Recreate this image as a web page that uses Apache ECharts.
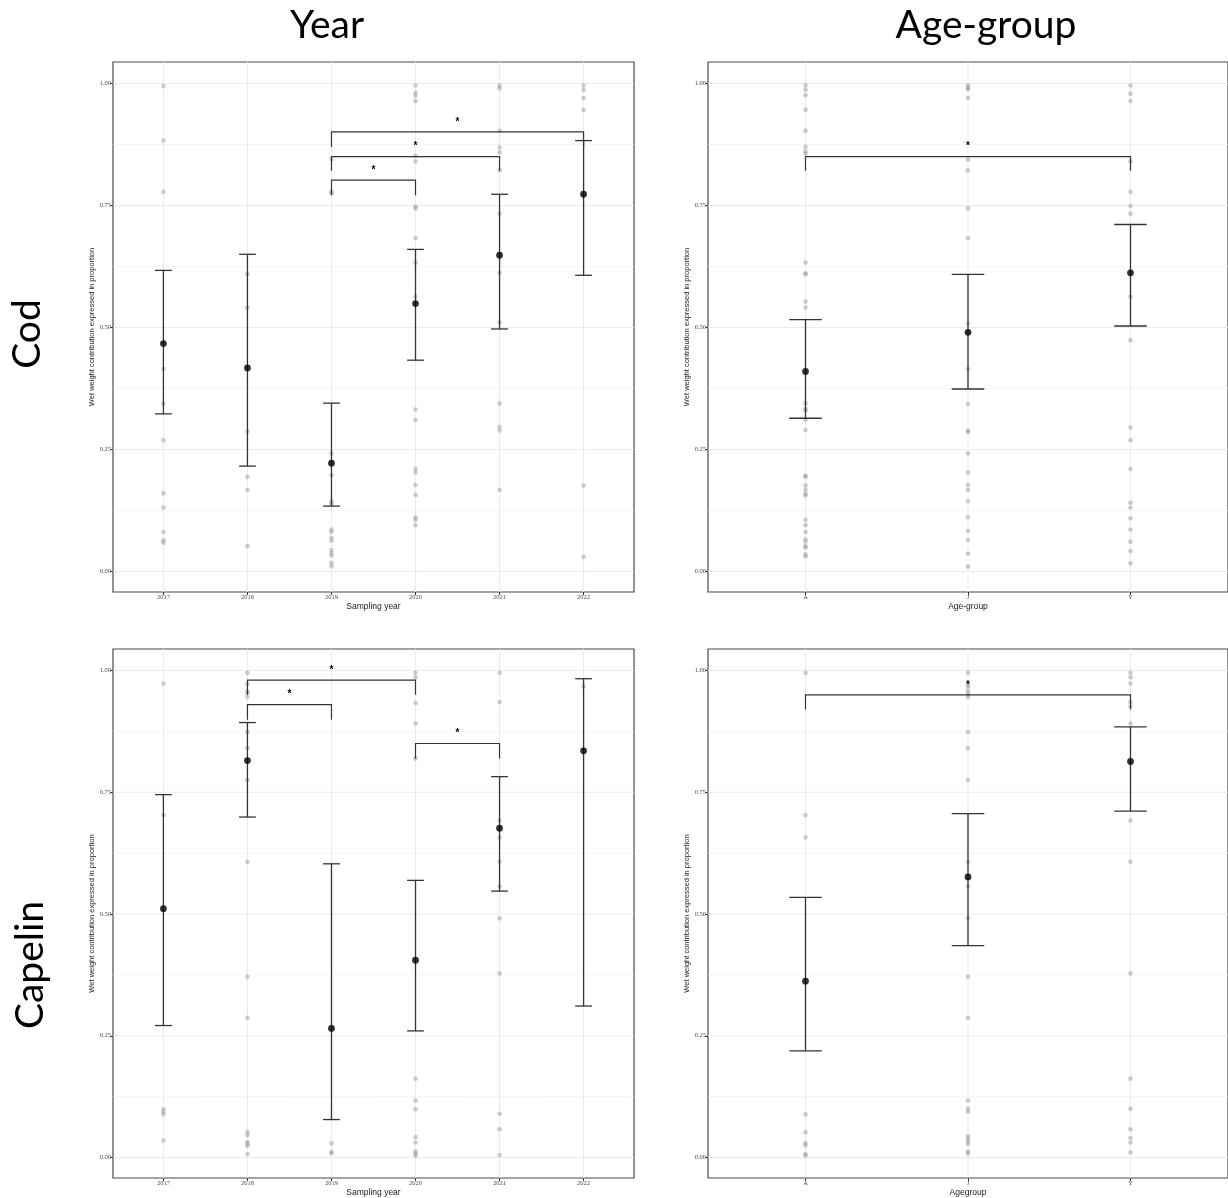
<!DOCTYPE html>
<html>
<head>
<meta charset="utf-8">
<script src="https://cdn.jsdelivr.net/npm/echarts@6/dist/echarts.min.js"></script>
<style>
  html, body { margin: 0; padding: 0; background: #ffffff; }
  #chart { width: 1228px; height: 1198px; }
</style>
</head>
<body>
<div id="chart"></div>
<script>
// ---- categories and axis breaks ----
const yearCategories = ['2017', '2018', '2019', '2020', '2021', '2022'];
const ageCategories = ['A', 'J', 'Y'];
const yTickValues = [0, 0.25, 0.5, 0.75, 1];
const yMinorValues = [0.125, 0.375, 0.625, 0.875];

// ---- Cod by sampling year ----
const codYearPoints = [
  [0.995, 0.883, 0.778, 0.415, 0.344, 0.269, 0.160, 0.131, 0.081, 0.064, 0.059],
  [0.609, 0.541, 0.287, 0.194, 0.167, 0.052],
  [0.845, 0.778, 0.775, 0.242, 0.197, 0.144, 0.139, 0.086, 0.081, 0.069, 0.063, 0.044, 0.038, 0.033, 0.018, 0.011],
  [0.996, 0.981, 0.975, 0.964, 0.852, 0.840, 0.748, 0.744, 0.683, 0.633, 0.563, 0.332, 0.311, 0.210, 0.203, 0.177, 0.157, 0.111, 0.106, 0.095],
  [0.996, 0.990, 0.903, 0.869, 0.859, 0.822, 0.733, 0.612, 0.510, 0.344, 0.296, 0.289, 0.167],
  [0.996, 0.987, 0.970, 0.946, 0.176, 0.030]
];
const codYearMean = [0.467, 0.417, 0.222, 0.549, 0.648, 0.773];
const codYearLower = [0.323, 0.216, 0.134, 0.433, 0.497, 0.607];
const codYearUpper = [0.617, 0.650, 0.345, 0.660, 0.773, 0.883];
// [from, to, bracket height, tip end]
const codYearBrackets = [
  [2, 3, 0.802, 0.771],
  [2, 4, 0.850, 0.821],
  [2, 5, 0.901, 0.870]
];

// ---- Cod by age-group ----
const codAgePoints = [
  [0.996, 0.987, 0.976, 0.946, 0.903, 0.870, 0.861, 0.856, 0.633, 0.611, 0.609, 0.553, 0.541, 0.345, 0.333, 0.330, 0.311, 0.290, 0.196, 0.194, 0.176, 0.167, 0.159, 0.156, 0.106, 0.095, 0.081, 0.066, 0.061, 0.052, 0.049, 0.035, 0.031],
  [0.996, 0.991, 0.988, 0.970, 0.844, 0.822, 0.744, 0.683, 0.508, 0.415, 0.343, 0.289, 0.286, 0.242, 0.203, 0.177, 0.167, 0.144, 0.111, 0.083, 0.064, 0.037, 0.010],
  [0.996, 0.979, 0.964, 0.840, 0.778, 0.749, 0.733, 0.563, 0.474, 0.295, 0.269, 0.210, 0.141, 0.131, 0.109, 0.086, 0.061, 0.042, 0.017]
];
const codAgeMean = [0.410, 0.490, 0.612];
const codAgeLower = [0.314, 0.374, 0.503];
const codAgeUpper = [0.516, 0.609, 0.711];
const codAgeBrackets = [
  [0, 2, 0.850, 0.821]
];

// ---- Capelin by sampling year ----
const capelinYearPoints = [
  [0.973, 0.703, 0.099, 0.094, 0.089, 0.035],
  [0.995, 0.972, 0.957, 0.954, 0.946, 0.873, 0.840, 0.775, 0.607, 0.371, 0.287, 0.053, 0.046, 0.032, 0.028, 0.024, 0.007],
  [0.029, 0.012, 0.009],
  [0.995, 0.986, 0.933, 0.891, 0.819, 0.162, 0.117, 0.099, 0.042, 0.031, 0.013, 0.008, 0.004],
  [0.995, 0.935, 0.692, 0.657, 0.607, 0.557, 0.491, 0.378, 0.090, 0.058, 0.005],
  [0.967]
];
const capelinYearMean = [0.511, 0.815, 0.265, 0.405, 0.676, 0.835];
const capelinYearLower = [0.271, 0.699, 0.078, 0.260, 0.547, 0.311];
const capelinYearUpper = [0.745, 0.893, 0.603, 0.569, 0.782, 0.983];
const capelinYearBrackets = [
  [1, 2, 0.930, 0.899],
  [1, 3, 0.980, 0.950],
  [3, 4, 0.850, 0.819]
];

// ---- Capelin by age-group ----
const capelinAgePoints = [
  [0.995, 0.703, 0.657, 0.089, 0.052, 0.030, 0.025, 0.007, 0.004],
  [0.995, 0.970, 0.966, 0.957, 0.951, 0.946, 0.873, 0.840, 0.775, 0.607, 0.557, 0.491, 0.371, 0.287, 0.117, 0.100, 0.094, 0.044, 0.038, 0.033, 0.028, 0.013, 0.008],
  [0.995, 0.986, 0.973, 0.935, 0.926, 0.891, 0.692, 0.607, 0.378, 0.162, 0.100, 0.058, 0.040, 0.031, 0.011]
];
const capelinAgeMean = [0.362, 0.576, 0.813];
const capelinAgeLower = [0.219, 0.435, 0.711];
const capelinAgeUpper = [0.534, 0.706, 0.884];
const capelinAgeBrackets = [
  [0, 2, 0.950, 0.920]
];

// ---- panel layout ----
const panels = [
  { cats: yearCategories, points: codYearPoints, mean: codYearMean, lower: codYearLower, upper: codYearUpper,
    brackets: codYearBrackets, xName: 'Sampling year', box: { left: 113, top: 62, width: 521, height: 530 } },
  { cats: ageCategories, points: codAgePoints, mean: codAgeMean, lower: codAgeLower, upper: codAgeUpper,
    brackets: codAgeBrackets, xName: 'Age-group', box: { left: 708, top: 62, width: 522, height: 530 } },
  { cats: yearCategories, points: capelinYearPoints, mean: capelinYearMean, lower: capelinYearLower, upper: capelinYearUpper,
    brackets: capelinYearBrackets, xName: 'Sampling year', box: { left: 113, top: 649, width: 521, height: 530 } },
  { cats: ageCategories, points: capelinAgePoints, mean: capelinAgeMean, lower: capelinAgeLower, upper: capelinAgeUpper,
    brackets: capelinAgeBrackets, xName: 'Agegroup', box: { left: 708, top: 649, width: 522, height: 530 } }
];

const Y_MIN = -0.042, Y_MAX = 1.044;
const CAP_HALF = 0.1;           // half width of error-bar caps, in category units
const INK = '#333333';
const TICK_FONT = 'Liberation Serif';
const SANS = 'Liberation Sans';

const chart = echarts.init(document.getElementById('chart'), null, { renderer: 'canvas' });

const grids = [], xAxes = [], yAxes = [], series = [];

panels.forEach((p, i) => {
  const n = p.cats.length;
  const idx = p.cats.map((_, k) => k);

  grids.push(Object.assign({ show: true, borderColor: '#4a4a4a', borderWidth: 1.2, backgroundColor: '#ffffff', containLabel: false }, p.box));

  xAxes.push({
    type: 'value', gridIndex: i, min: -0.6, max: n - 0.4, position: 'bottom',
    name: p.xName, nameLocation: 'middle', nameGap: 10,
    nameTextStyle: { fontFamily: SANS, fontSize: 8.5, color: '#1a1a1a' },
    axisLine: { show: false, onZero: false },
    axisTick: { show: true, customValues: idx, length: 3, lineStyle: { color: INK, width: 1 } },
    axisLabel: { customValues: idx, formatter: v => p.cats[Math.round(v)], fontFamily: TICK_FONT, fontSize: 6.5, color: '#4d4d4d', margin: 2 },
    splitLine: { show: false }
  });

  yAxes.push({
    type: 'value', gridIndex: i, min: Y_MIN, max: Y_MAX, position: 'left',
    name: 'Wet weight contribution expressed in proportion', nameLocation: 'middle', nameGap: 17,
    nameTextStyle: { fontFamily: SANS, fontSize: 7.5, color: '#1a1a1a' },
    axisLine: { show: false, onZero: false },
    axisTick: { show: true, customValues: yTickValues, length: 3, lineStyle: { color: INK, width: 1 } },
    axisLabel: { customValues: yTickValues, formatter: v => v.toFixed(2), fontFamily: TICK_FONT, fontSize: 6.5, color: '#4d4d4d', margin: 2 },
    splitLine: { show: false }
  });

  // background grid: kind 0 = major horizontal, 1 = minor horizontal, 2 = vertical at category
  const gridData = [];
  yTickValues.forEach(v => gridData.push([0, v]));
  yMinorValues.forEach(v => gridData.push([1, v]));
  idx.forEach(k => gridData.push([2, k]));
  series.push({
    type: 'custom', xAxisIndex: i, yAxisIndex: i, silent: true, z: 1,
    data: gridData,
    encode: { x: -1, y: -1 },
    renderItem: (params, api) => {
      const kind = api.value(0), v = api.value(1);
      const cs = params.coordSys;
      if (kind === 2) {
        const x = api.coord([v, 0])[0];
        return { type: 'line', shape: { x1: x, y1: cs.y, x2: x, y2: cs.y + cs.height },
                 style: { stroke: '#ebebeb', lineWidth: 1.1 } };
      }
      const y = api.coord([0, v])[1];
      return { type: 'line', shape: { x1: cs.x, y1: y, x2: cs.x + cs.width, y2: y },
               style: { stroke: kind === 0 ? '#ebebeb' : '#f4f4f4', lineWidth: kind === 0 ? 1.1 : 0.8 } };
    }
  });

  // individual observations
  const raw = [];
  p.points.forEach((vals, k) => vals.forEach(v => raw.push([k, v])));
  series.push({
    type: 'scatter', xAxisIndex: i, yAxisIndex: i, z: 2, silent: true,
    symbol: 'circle', symbolSize: 4.6,
    itemStyle: { color: 'rgba(150,150,150,0.6)' },
    data: raw
  });

  // error bars
  series.push({
    type: 'custom', xAxisIndex: i, yAxisIndex: i, z: 3, silent: true,
    data: idx.map(k => [k, p.lower[k], p.upper[k]]),
    encode: { x: 0, y: [1, 2] },
    renderItem: (params, api) => {
      const x = api.value(0), lo = api.value(1), hi = api.value(2);
      const a = api.coord([x, hi]), b = api.coord([x, lo]);
      const tl = api.coord([x - CAP_HALF, hi]), tr = api.coord([x + CAP_HALF, hi]);
      const bl = api.coord([x - CAP_HALF, lo]), br = api.coord([x + CAP_HALF, lo]);
      const st = () => ({ stroke: INK, lineWidth: 1.3 });
      return { type: 'group', children: [
        { type: 'line', shape: { x1: a[0], y1: a[1], x2: b[0], y2: b[1] }, style: st() },
        { type: 'line', shape: { x1: tl[0], y1: tl[1], x2: tr[0], y2: tr[1] }, style: st() },
        { type: 'line', shape: { x1: bl[0], y1: bl[1], x2: br[0], y2: br[1] }, style: st() }
      ] };
    }
  });

  // group means
  series.push({
    type: 'scatter', xAxisIndex: i, yAxisIndex: i, z: 4, silent: true,
    symbol: 'circle', symbolSize: 6.8,
    itemStyle: { color: '#000000' },
    data: idx.map(k => [k, p.mean[k]])
  });

  // significance brackets with stars
  series.push({
    type: 'custom', xAxisIndex: i, yAxisIndex: i, z: 5, silent: true,
    data: p.brackets,
    encode: { x: [0, 1], y: [2, 3] },
    renderItem: (params, api) => {
      const x1 = api.value(0), x2 = api.value(1), yTop = api.value(2), yTip = api.value(3);
      const pts = [api.coord([x1, yTip]), api.coord([x1, yTop]), api.coord([x2, yTop]), api.coord([x2, yTip])];
      const mid = api.coord([(x1 + x2) / 2, yTop]);
      return { type: 'group', children: [
        { type: 'polyline', shape: { points: pts }, style: { stroke: INK, lineWidth: 1.2, fill: null } },
        { type: 'text', x: mid[0], y: mid[1] - 10,
          style: { text: '*', fontFamily: SANS, fontSize: 10, fontWeight: 'bold', fill: '#000000',
                   textAlign: 'center', textVerticalAlign: 'middle' } }
      ] };
    }
  });
});

const headingStyle = { fontFamily: 'Lato', fontSize: 39, fill: '#000000', textAlign: 'center', textVerticalAlign: 'middle' };

chart.setOption({
  animation: false,
  backgroundColor: '#ffffff',
  grid: grids,
  xAxis: xAxes,
  yAxis: yAxes,
  series: series,
  graphic: [
    { type: 'text', x: 327, y: 25, style: Object.assign({ text: 'Year' }, headingStyle) },
    { type: 'text', x: 986, y: 25, style: Object.assign({ text: 'Age-group' }, headingStyle) },
    { type: 'text', x: 27, y: 334, rotation: Math.PI / 2, style: Object.assign({ text: 'Cod' }, headingStyle) },
    { type: 'text', x: 30, y: 965, rotation: Math.PI / 2, style: Object.assign({ text: 'Capelin' }, headingStyle) }
  ]
});
</script>
</body>
</html>
